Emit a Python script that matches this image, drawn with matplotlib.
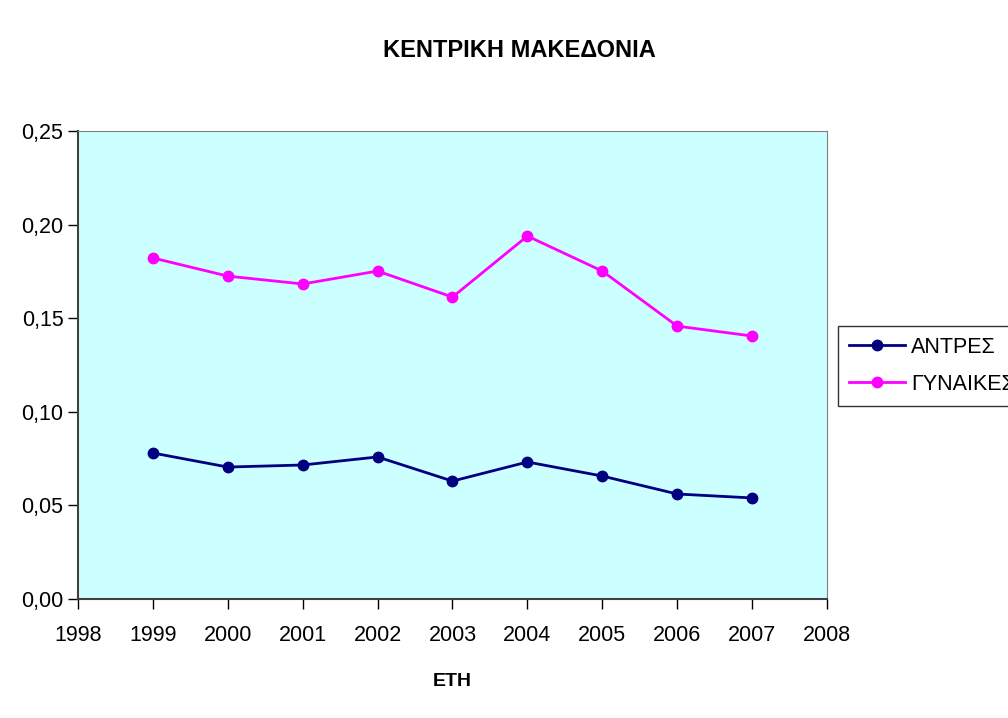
import matplotlib.pyplot as plt

# Δεδομένα
eti = [1999, 2000, 2001, 2002, 2003, 2004, 2005, 2006, 2007]
antres = [0.0780, 0.0705, 0.0716, 0.0759, 0.0630, 0.0732, 0.0657, 0.0561, 0.0540]
gynaikes = [0.1822, 0.1725, 0.1683, 0.1752, 0.1613, 0.1939, 0.1752, 0.1458, 0.1405]
yticks = [0.00, 0.05, 0.10, 0.15, 0.20, 0.25]
xticks = list(range(1998, 2009))

plt.rcParams['font.family'] = ['Liberation Sans Narrow', 'Liberation Sans', 'DejaVu Sans']

fig = plt.figure(figsize=(10.08, 7.18), dpi=100)
ax = fig.add_axes([0.0774, 0.1657, 0.743, 0.6518])
ax.set_facecolor('#CCFFFF')

ax.plot(eti, antres, color='#000080', marker='o', markersize=7.5, linewidth=2, label='ΑΝΤΡΕΣ')
ax.plot(eti, gynaikes, color='#FF00FF', marker='o', markersize=7.5, linewidth=2, label='ΓΥΝΑΙΚΕΣ')

ax.set_xlim(1998, 2008)
ax.set_ylim(0, 0.25)
ax.set_xticks(xticks)
ax.set_yticks(yticks)
ax.set_yticklabels([f'{v:.2f}'.replace('.', ',') for v in yticks])
ax.tick_params(axis='both', direction='out', length=7, width=1, labelsize=15.5, colors='black')
ax.tick_params(axis='x', pad=12)

for side in ['top', 'right']:
    ax.spines[side].set_color('#808080')
for side in ['left', 'bottom']:
    ax.spines[side].set_color('#404040')
    ax.spines[side].set_linewidth(1.5)

ax.set_xlabel('ΕΤΗ', fontsize=14, fontweight='bold', labelpad=19)
fig.text(0.515, 0.929, 'ΚΕΝΤΡΙΚΗ ΜΑΚΕΔΟΝΙΑ', ha='center', va='center', fontsize=17, fontweight='bold')

leg = ax.legend(loc='upper left', bbox_to_anchor=(838 / 1008, 1 - 326 / 718), bbox_transform=fig.transFigure,
                fontsize=15.5, frameon=True, fancybox=False, borderaxespad=0, handlelength=2.6,
                handletextpad=0.3, labelspacing=0.75, borderpad=0.5)
leg.get_frame().set_edgecolor('black')
leg.get_frame().set_linewidth(1)

fig.savefig('out.png', dpi=100)
